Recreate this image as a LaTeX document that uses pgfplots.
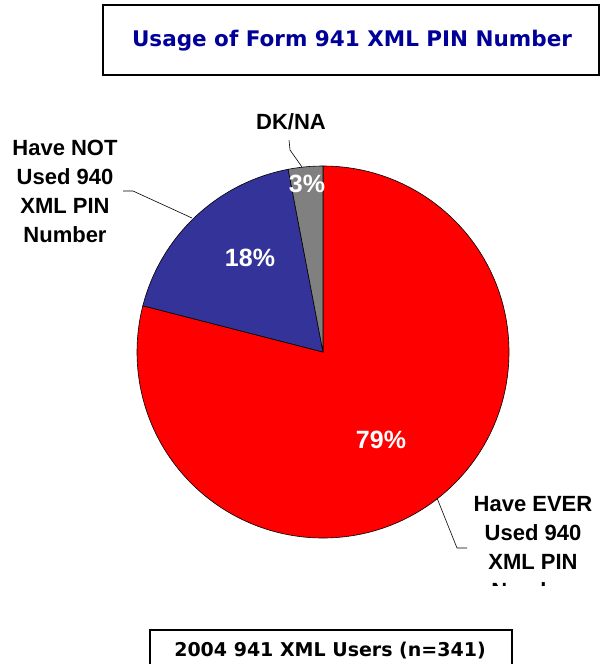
\documentclass[border=0pt]{standalone}
\usepackage{fontspec}
\setmainfont{Liberation Sans}
\newfontfamily\boxfont{DejaVu Sans}
\usepackage{pgfplots}
\pgfplotsset{compat=1.18}

\definecolor{pieRed}{RGB}{255,0,0}
\definecolor{pieBlue}{RGB}{51,51,153}
\definecolor{pieGray}{RGB}{128,128,128}
\definecolor{titleBlue}{RGB}{0,0,153}

% shares, clockwise from 12 o'clock
\def\vEver{79}
\def\vNot{18}
\def\vDk{3}

\begin{document}
\begin{tikzpicture}
\pgfmathsetmacro\aA{90}
\pgfmathsetmacro\aB{\aA-3.6*\vEver}
\pgfmathsetmacro\aC{\aB-3.6*\vNot}
\pgfmathsetmacro\aD{\aC-3.6*\vDk}
\begin{axis}[
  x=1pt, y=1pt,
  xmin=0, xmax=603, ymin=0, ymax=664,
  y dir=reverse,
  hide axis,
  clip=false,
]
% pie slices
\filldraw[fill=pieRed, draw=black, line width=0.6pt]
  (axis cs:323,352) -- ++(\aA:186pt) arc[start angle=\aA, end angle=\aB, radius=186pt] -- cycle;
\filldraw[fill=pieBlue, draw=black, line width=0.6pt]
  (axis cs:323,352) -- ++(\aB:186pt) arc[start angle=\aB, end angle=\aC, radius=186pt] -- cycle;
\filldraw[fill=pieGray, draw=black, line width=0.6pt]
  (axis cs:323,352) -- ++(\aC:186pt) arc[start angle=\aC, end angle=\aD, radius=186pt] -- cycle;

% percentages
\node[text=white, font=\fontsize{25}{25}\selectfont\bfseries] at (axis cs:381,440) {\vEver\%};
\node[text=white, font=\fontsize{25}{25}\selectfont\bfseries] at (axis cs:250,258) {\vNot\%};
\node[text=white, font=\fontsize{25}{25}\selectfont\bfseries] at (axis cs:307,184) {\vDk\%};

% leader lines
\draw[line width=0.6pt] (axis cs:289,140) -- (axis cs:290,150) -- (axis cs:302,167);
\draw[line width=0.6pt] (axis cs:123,191) -- (axis cs:133,191) -- (axis cs:192,218);
\draw[line width=0.6pt] (axis cs:437,498) -- (axis cs:457,548) -- (axis cs:467,548);

% category labels
\node[font=\fontsize{22}{29}\selectfont\bfseries] at (axis cs:291,122) {DK/NA};
\node[align=center, font=\fontsize{22}{29}\selectfont\bfseries] at (axis cs:65,191)
  {Have NOT\\Used 940\\XML PIN\\Number};
\begin{scope}
\clip (axis cs:400,470) rectangle (axis cs:603,585);
\node[align=center, font=\fontsize{22}{29}\selectfont\bfseries] at (axis cs:533,548)
  {Have EVER\\Used 940\\XML PIN\\Number};
\end{scope}

% title box
\draw[line width=2.2pt] (axis cs:103,5) rectangle (axis cs:599,75);
\node[text=titleBlue, font=\boxfont\fontsize{21.5}{21.5}\selectfont\bfseries] at (axis cs:352,41)
  {Usage of Form 941 XML PIN Number};

% base box
\draw[line width=1.8pt] (axis cs:150,664) -- (axis cs:150,630) -- (axis cs:512,630) -- (axis cs:512,664);
\node[font=\boxfont\fontsize{19}{19}\selectfont\bfseries] at (axis cs:330,651)
  {2004 941 XML Users (n=341)};
\end{axis}
\pgfresetboundingbox
\useasboundingbox (current axis.south west) rectangle (current axis.north east);
\end{tikzpicture}
\end{document}
